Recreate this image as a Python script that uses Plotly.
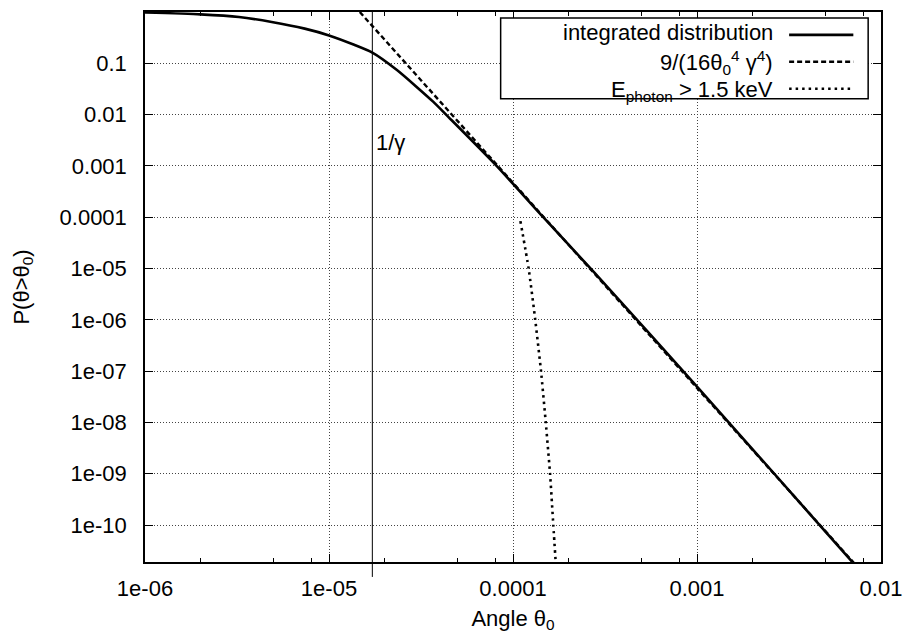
import numpy as np
import plotly.graph_objects as go

# Integrated angular distribution P(theta > theta0)
theta_int = [1e-6, 2e-6, 3.24e-6, 4.88e-6, 7.38e-6, 1e-5, 1.37e-5, 1.72e-5, 2.34e-5,
             3.68e-5, 4.34e-5, 8.05e-5, 1.46e-4, 2.77e-4, 1e-3, 4.64e-3, 8e-3]
p_int = [0.975, 0.90, 0.80, 0.64, 0.474, 0.35, 0.23, 0.162, 0.074,
         0.0179, 9.9e-3, 1.05e-3, 1e-4, 8.3e-6, 5e-8, 1e-10, 1.1e-11]

# Large-angle asymptote 9/(16 theta0^4 gamma^4)
theta_asym = [1.47e-5, 8e-3]
p_asym = [1.0, 1.15e-11]

# Photons above 1.5 keV
theta_hard = [1.097e-4, 1.216e-4, 1.321e-4, 1.42e-4, 1.507e-4, 1.59e-4, 1.656e-4, 1.72e-4]
p_hard = [8.4e-5, 1e-5, 1e-6, 1e-7, 1e-8, 1e-9, 1e-10, 1.2e-11]

# Opening angle 1/gamma
inv_gamma = 1.72e-5

x_tick_vals = [1e-6, 1e-5, 1e-4, 1e-3, 1e-2]
x_tick_text = ["1e-06", "1e-05", "0.0001", "0.001", "0.01"]
x_minor_vals = [m * 10.0 ** e for e in range(-6, -2) for m in (2, 5, 8)]
y_tick_vals = [10.0 ** -k for k in range(0, 11)]
y_tick_text = ["1", "0.1", "0.01", "0.001", "0.0001", "1e-05", "1e-06",
               "1e-07", "1e-08", "1e-09", "1e-10"]

legend_labels = ["integrated distribution",
                 "9/(16θ<sub>0</sub><sup>4</sup> γ<sup>4</sup>)",
                 "E<sub>photon</sub> > 1.5 keV"]

W, H = 912, 637
L, R, T, B = 145, 22, 10, 75
pw, ph = W - L - R, H - T - B


def px(xp):
    return (xp - L) / pw


def py(yp):
    return (H - B - yp) / ph


FONT = "Liberation Sans, Arial, Helvetica, sans-serif"
solid = dict(color="black", width=2.6)
dashed = dict(color="black", width=2.4, dash="5px,3px")
dotted = dict(color="black", width=2.6, dash="2.5px,4px")

fig = go.Figure()
fig.add_trace(go.Scatter(x=theta_int, y=p_int, mode="lines",
                         line=dict(shape="spline", smoothing=0.6, **solid),
                         name=legend_labels[0]))
fig.add_trace(go.Scatter(x=theta_asym, y=p_asym, mode="lines", line=dashed,
                         name=legend_labels[1]))
fig.add_trace(go.Scatter(x=theta_hard, y=p_hard, mode="lines",
                         line=dict(shape="spline", smoothing=0.5, **dotted),
                         name=legend_labels[2]))

axis_common = dict(
    type="log", ticks="inside", ticklen=8, tickwidth=1, tickcolor="black",
    showline=True, linecolor="black", linewidth=1.5, mirror="ticks",
    showgrid=True, gridcolor="#444444", gridwidth=1, griddash="1px,2px",
    zeroline=False, tickfont=dict(size=22, family=FONT, color="black"),
)

fig.update_xaxes(
    range=[-6, -2], tickmode="array", tickvals=x_tick_vals, ticktext=x_tick_text,
    minor=dict(tickmode="array", tickvals=x_minor_vals, ticks="inside",
               ticklen=4, tickwidth=1, tickcolor="black", showgrid=False),
    title=dict(text="Angle θ<sub>0</sub>", standoff=10,
               font=dict(size=22, family=FONT, color="black")),
    ticklabelstandoff=6,
    **axis_common,
)
fig.update_yaxes(
    range=[-10.72, 0], tickmode="array", tickvals=y_tick_vals, ticktext=y_tick_text,
    title=dict(text="P(θ>θ<sub>0</sub>)", standoff=24,
               font=dict(size=22, family=FONT, color="black")),
    ticklabelstandoff=12,
    **axis_common,
)

shapes = [
    # 1/gamma marker, running a little below the frame
    dict(type="line", xref="x", yref="paper", x0=inv_gamma, x1=inv_gamma,
         y0=py(577), y1=1, line=dict(color="black", width=1)),
    # key box
    dict(type="rect", xref="paper", yref="paper", x0=px(505), x1=px(877),
         y0=py(97), y1=py(16), line=dict(color="black", width=1.5),
         fillcolor="white", layer="above"),
]
row_y = [33, 60, 87]
text_y = [31, 61, 89]
for yy, ln in zip(row_y, [solid, dashed, dotted]):
    shapes.append(dict(type="line", xref="paper", yref="paper", x0=px(797), x1=px(862),
                       y0=py(yy), y1=py(yy), line=ln, layer="above"))

annotations = [
    dict(x=np.log10(inv_gamma), y=-2.54, xref="x", yref="y", text="1/γ",
         showarrow=False, xanchor="left", yanchor="middle", xshift=2,
         font=dict(size=22, family=FONT, color="black")),
]
for yy, lab in zip(text_y, legend_labels):
    annotations.append(dict(x=px(783), y=py(yy), xref="paper", yref="paper", text=lab,
                            showarrow=False, xanchor="right", yanchor="middle",
                            font=dict(size=22, family=FONT, color="black")))

fig.update_layout(
    width=W, height=H, margin=dict(l=L, r=R, t=T, b=B),
    plot_bgcolor="white", paper_bgcolor="white", showlegend=False,
    font=dict(family=FONT, size=22, color="black"),
    shapes=shapes, annotations=annotations,
)

fig.write_html("out.html")
